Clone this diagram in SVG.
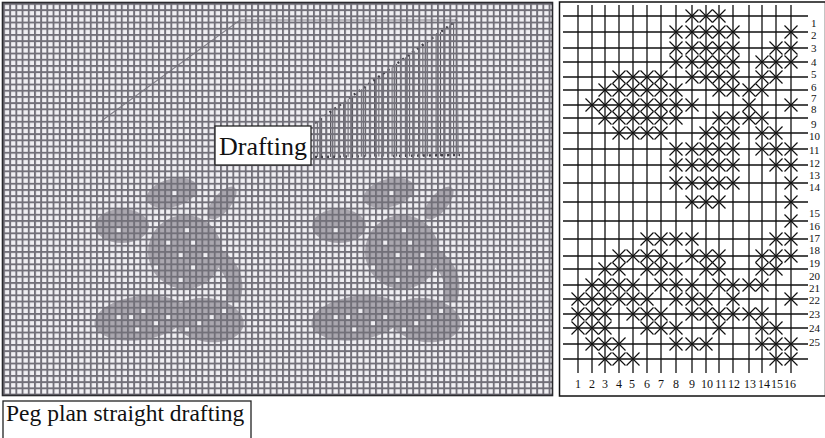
<svg xmlns="http://www.w3.org/2000/svg" xmlns:xlink="http://www.w3.org/1999/xlink" width="825" height="438" viewBox="0 0 825 438">
  <style>
    .serif { font-family: "Liberation Serif", "Times New Roman", serif; fill: #111; }
    .peg-line { stroke: #111; stroke-width: 1.3; fill: none; }
    .mark { stroke: #111; stroke-width: 1.2; fill: none; }
    .shade { fill: #aaa7af; }
    .dot { fill: #f0eff3; }
    .draft-dots { stroke: #3e3c44; stroke-width: 2.4; stroke-dasharray: 2 4; fill: none; }
    .draft-faint { stroke: #85838c; stroke-width: 1.2; fill: none; }
    .hatch { stroke: #4e4c54; stroke-width: 0.9; }
    .label-box { fill: #fff; stroke: #222; stroke-width: 1.3; }
    .row-num { font-size: 11px; }
    .col-num { font-size: 12px; text-anchor: middle; }
  </style>
  <defs>
    <!-- point-paper grid cell -->
    <pattern id="cell" x="3" y="3" width="6.2" height="6.2" patternUnits="userSpaceOnUse">
      <rect x="0" y="0" width="1.9" height="6.2" fill="#727079"/>
      <rect x="0" y="0" width="6.2" height="1.9" fill="#727079"/>
    </pattern>
    <!-- vertical threading hatch -->
    <pattern id="hatch" x="0" y="0" width="4.4" height="10" patternUnits="userSpaceOnUse">
      <rect x="0" y="0" width="1" height="10" fill="#4e4c54"/>
    </pattern>
    <path id="x" d="M-6.5,-6.5L6.5,6.5M-6.5,6.5L6.5,-6.5" class="mark"/>
  </defs>

  <!-- design plan -->
  <g id="design-plan">
    <rect x="3" y="3" width="549" height="392" fill="#f0eff3"/>
    <g id="motif">
      <ellipse class="shade" cx="172" cy="193" rx="26" ry="14" transform="rotate(-15 172 193)"/>
      <ellipse class="shade" cx="222" cy="203" rx="20" ry="9" transform="rotate(-50 222 203)"/>
      <ellipse class="shade" cx="122" cy="226" rx="27" ry="17"/>
      <ellipse class="shade" cx="185" cy="252" rx="37" ry="37"/>
      <path class="shade" d="M205,240 Q252,262 240,302 L226,300 Q234,272 200,254 Z"/>
      <ellipse class="shade" cx="140" cy="318" rx="46" ry="22" transform="rotate(-8 140 318)"/>
      <ellipse class="shade" cx="208" cy="320" rx="36" ry="22" transform="rotate(8 208 320)"/>
      <g class="dot">
        <rect x="166.1" y="240.5" width="4.3" height="4.3"/>
        <rect x="178.5" y="252.9" width="4.3" height="4.3"/>
        <rect x="190.9" y="265.3" width="4.3" height="4.3"/>
        <rect x="203.3" y="252.9" width="4.3" height="4.3"/>
        <rect x="190.9" y="240.5" width="4.3" height="4.3"/>
        <rect x="178.5" y="277.7" width="4.3" height="4.3"/>
        <rect x="153.7" y="265.3" width="4.3" height="4.3"/>
        <rect x="184.7" y="228.1" width="4.3" height="4.3"/>
        <rect x="116.5" y="314.9" width="4.3" height="4.3"/>
        <rect x="128.9" y="314.9" width="4.3" height="4.3"/>
        <rect x="141.3" y="308.7" width="4.3" height="4.3"/>
        <rect x="153.7" y="321.1" width="4.3" height="4.3"/>
        <rect x="166.1" y="314.9" width="4.3" height="4.3"/>
        <rect x="197.1" y="321.1" width="4.3" height="4.3"/>
        <rect x="209.5" y="314.9" width="4.3" height="4.3"/>
        <rect x="221.9" y="308.7" width="4.3" height="4.3"/>
        <rect x="184.7" y="327.3" width="4.3" height="4.3"/>
        <rect x="135.1" y="327.3" width="4.3" height="4.3"/>
        <rect x="116.5" y="228.1" width="4.3" height="4.3"/>
        <rect x="172.3" y="190.9" width="4.3" height="4.3"/>
      </g>
    </g>
    <use xlink:href="#motif" transform="translate(217,0)"/>

    <!-- drafting lines -->
    <g id="drafting-lines">
      <path class="draft-faint" d="M100,122 L240,20 L457,20"/>
      <path d="M315,123 L457,20 L459,156 L315,157 Z" fill="url(#hatch)"/>
      <path class="draft-dots" d="M315,123 L457,20"/>
      <path class="draft-dots" d="M315,157 L460,155"/>
    </g>

    <rect x="3" y="3" width="549" height="392" fill="url(#cell)"/>
    <rect x="2.5" y="2.5" width="550" height="393" fill="none" stroke="#2a2a2e" stroke-width="1.6"/>
  </g>

  <g id="drafting-label">
    <rect class="label-box" x="215" y="126" width="96" height="39"/>
    <text class="serif" x="263" y="155" font-size="26" text-anchor="middle">Drafting</text>
  </g>

  <g id="caption">
    <rect class="label-box" x="3" y="401" width="248" height="40"/>
    <text class="serif" x="6" y="421" font-size="23.5">Peg plan straight drafting</text>
  </g>

  <!-- peg plan -->
  <g id="peg-plan">
    <rect x="559.5" y="2" width="266" height="394" fill="#fff" stroke="#111" stroke-width="1.5"/>
    <g class="peg-line">
      <path d="M578,5V373M592,5V373M605,5V373M619,5V373M633,5V373M647,5V373M661,5V373M676,5V373M692,5V373M706,5V373M719,5V373M733,5V373M749,5V373M762,5V373M776,5V373M791,5V373"/>
      <path d="M563,16H808M563,32H808M563,48H808M563,62H808M563,77H808M563,90H808M563,105H808M563,118H808M563,133H808M563,149H808M563,165H808M563,183H808M563,202H808M563,221H808M563,239H808M563,256H808M563,269H808M563,285H808M563,299H808M563,314H808M563,328H808M563,344H808M563,359H808"/>
    </g>
    <g id="marks">
      <!-- y16 -->
      <use xlink:href="#x" x="692" y="16"/><use xlink:href="#x" x="706" y="16"/><use xlink:href="#x" x="719" y="16"/>
      <!-- y32 -->
      <use xlink:href="#x" x="676" y="32"/><use xlink:href="#x" x="692" y="32"/><use xlink:href="#x" x="706" y="32"/><use xlink:href="#x" x="719" y="32"/><use xlink:href="#x" x="733" y="32"/><use xlink:href="#x" x="791" y="32"/>
      <!-- y48 -->
      <use xlink:href="#x" x="676" y="48"/><use xlink:href="#x" x="692" y="48"/><use xlink:href="#x" x="706" y="48"/><use xlink:href="#x" x="719" y="48"/><use xlink:href="#x" x="733" y="48"/><use xlink:href="#x" x="776" y="48"/><use xlink:href="#x" x="791" y="48"/>
      <!-- y62 -->
      <use xlink:href="#x" x="676" y="62"/><use xlink:href="#x" x="692" y="62"/><use xlink:href="#x" x="706" y="62"/><use xlink:href="#x" x="719" y="62"/><use xlink:href="#x" x="733" y="62"/><use xlink:href="#x" x="762" y="62"/><use xlink:href="#x" x="776" y="62"/><use xlink:href="#x" x="791" y="62"/>
      <!-- y77 -->
      <use xlink:href="#x" x="619" y="77"/><use xlink:href="#x" x="633" y="77"/><use xlink:href="#x" x="647" y="77"/><use xlink:href="#x" x="661" y="77"/><use xlink:href="#x" x="692" y="77"/><use xlink:href="#x" x="706" y="77"/><use xlink:href="#x" x="719" y="77"/><use xlink:href="#x" x="733" y="77"/><use xlink:href="#x" x="762" y="77"/><use xlink:href="#x" x="776" y="77"/>
      <!-- y90 -->
      <use xlink:href="#x" x="605" y="90"/><use xlink:href="#x" x="619" y="90"/><use xlink:href="#x" x="633" y="90"/><use xlink:href="#x" x="647" y="90"/><use xlink:href="#x" x="661" y="90"/><use xlink:href="#x" x="676" y="90"/><use xlink:href="#x" x="719" y="90"/><use xlink:href="#x" x="733" y="90"/><use xlink:href="#x" x="749" y="90"/><use xlink:href="#x" x="762" y="90"/>
      <!-- y105 -->
      <use xlink:href="#x" x="592" y="105"/><use xlink:href="#x" x="605" y="105"/><use xlink:href="#x" x="619" y="105"/><use xlink:href="#x" x="633" y="105"/><use xlink:href="#x" x="647" y="105"/><use xlink:href="#x" x="661" y="105"/><use xlink:href="#x" x="676" y="105"/><use xlink:href="#x" x="692" y="105"/><use xlink:href="#x" x="749" y="105"/><use xlink:href="#x" x="791" y="105"/>
      <!-- y118 -->
      <use xlink:href="#x" x="605" y="118"/><use xlink:href="#x" x="619" y="118"/><use xlink:href="#x" x="633" y="118"/><use xlink:href="#x" x="647" y="118"/><use xlink:href="#x" x="661" y="118"/><use xlink:href="#x" x="676" y="118"/><use xlink:href="#x" x="719" y="118"/><use xlink:href="#x" x="733" y="118"/><use xlink:href="#x" x="749" y="118"/><use xlink:href="#x" x="762" y="118"/>
      <!-- y133 -->
      <use xlink:href="#x" x="619" y="133"/><use xlink:href="#x" x="633" y="133"/><use xlink:href="#x" x="647" y="133"/><use xlink:href="#x" x="661" y="133"/><use xlink:href="#x" x="706" y="133"/><use xlink:href="#x" x="719" y="133"/><use xlink:href="#x" x="733" y="133"/><use xlink:href="#x" x="762" y="133"/><use xlink:href="#x" x="776" y="133"/>
      <!-- y149 -->
      <use xlink:href="#x" x="676" y="149"/><use xlink:href="#x" x="692" y="149"/><use xlink:href="#x" x="706" y="149"/><use xlink:href="#x" x="719" y="149"/><use xlink:href="#x" x="733" y="149"/><use xlink:href="#x" x="762" y="149"/><use xlink:href="#x" x="776" y="149"/><use xlink:href="#x" x="791" y="149"/>
      <!-- y165 -->
      <use xlink:href="#x" x="676" y="165"/><use xlink:href="#x" x="692" y="165"/><use xlink:href="#x" x="706" y="165"/><use xlink:href="#x" x="719" y="165"/><use xlink:href="#x" x="733" y="165"/><use xlink:href="#x" x="776" y="165"/><use xlink:href="#x" x="791" y="165"/>
      <!-- y183 -->
      <use xlink:href="#x" x="676" y="183"/><use xlink:href="#x" x="692" y="183"/><use xlink:href="#x" x="706" y="183"/><use xlink:href="#x" x="719" y="183"/><use xlink:href="#x" x="733" y="183"/><use xlink:href="#x" x="791" y="183"/>
      <!-- y202 -->
      <use xlink:href="#x" x="692" y="202"/><use xlink:href="#x" x="706" y="202"/><use xlink:href="#x" x="719" y="202"/><use xlink:href="#x" x="791" y="202"/>
      <!-- y221 -->
      <use xlink:href="#x" x="791" y="221"/>
      <!-- y239 -->
      <use xlink:href="#x" x="647" y="239"/><use xlink:href="#x" x="661" y="239"/><use xlink:href="#x" x="676" y="239"/><use xlink:href="#x" x="692" y="239"/><use xlink:href="#x" x="776" y="239"/><use xlink:href="#x" x="791" y="239"/>
      <!-- y256 -->
      <use xlink:href="#x" x="619" y="256"/><use xlink:href="#x" x="633" y="256"/><use xlink:href="#x" x="647" y="256"/><use xlink:href="#x" x="661" y="256"/><use xlink:href="#x" x="692" y="256"/><use xlink:href="#x" x="706" y="256"/><use xlink:href="#x" x="719" y="256"/><use xlink:href="#x" x="762" y="256"/><use xlink:href="#x" x="776" y="256"/><use xlink:href="#x" x="791" y="256"/>
      <!-- y269 -->
      <use xlink:href="#x" x="605" y="269"/><use xlink:href="#x" x="619" y="269"/><use xlink:href="#x" x="647" y="269"/><use xlink:href="#x" x="661" y="269"/><use xlink:href="#x" x="676" y="269"/><use xlink:href="#x" x="706" y="269"/><use xlink:href="#x" x="719" y="269"/><use xlink:href="#x" x="762" y="269"/><use xlink:href="#x" x="776" y="269"/>
      <!-- y285 -->
      <use xlink:href="#x" x="592" y="285"/><use xlink:href="#x" x="605" y="285"/><use xlink:href="#x" x="619" y="285"/><use xlink:href="#x" x="633" y="285"/><use xlink:href="#x" x="661" y="285"/><use xlink:href="#x" x="676" y="285"/><use xlink:href="#x" x="692" y="285"/><use xlink:href="#x" x="719" y="285"/><use xlink:href="#x" x="733" y="285"/><use xlink:href="#x" x="749" y="285"/><use xlink:href="#x" x="762" y="285"/>
      <!-- y299 -->
      <use xlink:href="#x" x="578" y="299"/><use xlink:href="#x" x="592" y="299"/><use xlink:href="#x" x="605" y="299"/><use xlink:href="#x" x="619" y="299"/><use xlink:href="#x" x="633" y="299"/><use xlink:href="#x" x="647" y="299"/><use xlink:href="#x" x="676" y="299"/><use xlink:href="#x" x="692" y="299"/><use xlink:href="#x" x="706" y="299"/><use xlink:href="#x" x="733" y="299"/><use xlink:href="#x" x="791" y="299"/>
      <!-- y314 -->
      <use xlink:href="#x" x="578" y="314"/><use xlink:href="#x" x="592" y="314"/><use xlink:href="#x" x="605" y="314"/><use xlink:href="#x" x="633" y="314"/><use xlink:href="#x" x="647" y="314"/><use xlink:href="#x" x="661" y="314"/><use xlink:href="#x" x="692" y="314"/><use xlink:href="#x" x="706" y="314"/><use xlink:href="#x" x="719" y="314"/><use xlink:href="#x" x="733" y="314"/><use xlink:href="#x" x="749" y="314"/><use xlink:href="#x" x="762" y="314"/>
      <!-- y328 -->
      <use xlink:href="#x" x="578" y="328"/><use xlink:href="#x" x="592" y="328"/><use xlink:href="#x" x="605" y="328"/><use xlink:href="#x" x="647" y="328"/><use xlink:href="#x" x="661" y="328"/><use xlink:href="#x" x="676" y="328"/><use xlink:href="#x" x="719" y="328"/><use xlink:href="#x" x="762" y="328"/><use xlink:href="#x" x="776" y="328"/>
      <!-- y344 -->
      <use xlink:href="#x" x="592" y="344"/><use xlink:href="#x" x="605" y="344"/><use xlink:href="#x" x="619" y="344"/><use xlink:href="#x" x="676" y="344"/><use xlink:href="#x" x="692" y="344"/><use xlink:href="#x" x="706" y="344"/><use xlink:href="#x" x="762" y="344"/><use xlink:href="#x" x="776" y="344"/><use xlink:href="#x" x="791" y="344"/>
      <!-- y359 -->
      <use xlink:href="#x" x="605" y="359"/><use xlink:href="#x" x="619" y="359"/><use xlink:href="#x" x="633" y="359"/><use xlink:href="#x" x="776" y="359"/><use xlink:href="#x" x="791" y="359"/>
    </g>
    <g class="serif row-num">
      <text x="811" y="27">1</text>
      <text x="811" y="39">2</text>
      <text x="811" y="52">3</text>
      <text x="811" y="66">4</text>
      <text x="811" y="78">5</text>
      <text x="811" y="91">6</text>
      <text x="811" y="102">7</text>
      <text x="811" y="113">8</text>
      <text x="811" y="128">9</text>
      <text x="809" y="140">10</text>
      <text x="809" y="154">11</text>
      <text x="809" y="167">12</text>
      <text x="809" y="179">13</text>
      <text x="809" y="191">14</text>
      <text x="809" y="217">15</text>
      <text x="809" y="230">16</text>
      <text x="809" y="242">17</text>
      <text x="809" y="254">18</text>
      <text x="809" y="267">19</text>
      <text x="809" y="280">20</text>
      <text x="809" y="292">21</text>
      <text x="809" y="304">22</text>
      <text x="809" y="318">23</text>
      <text x="809" y="332">24</text>
      <text x="809" y="346">25</text>
    </g>
    <g class="serif col-num">
      <text x="578" y="388">1</text>
      <text x="592" y="388">2</text>
      <text x="605" y="388">3</text>
      <text x="619" y="388">4</text>
      <text x="632" y="388">5</text>
      <text x="647" y="388">6</text>
      <text x="661" y="388">7</text>
      <text x="676" y="388">8</text>
      <text x="692" y="388">9</text>
      <text x="707" y="388">10</text>
      <text x="721" y="388">11</text>
      <text x="734" y="388">12</text>
      <text x="750" y="388">13</text>
      <text x="764" y="388">14</text>
      <text x="777" y="388">15</text>
      <text x="790" y="388">16</text>
    </g>
  </g>
</svg>
